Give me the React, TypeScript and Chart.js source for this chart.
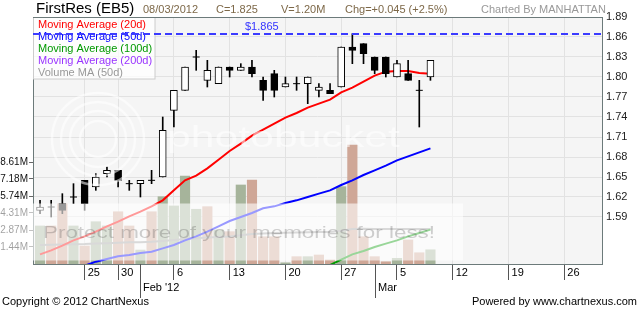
import React, { useEffect, useRef } from 'react';
import { Chart, registerables } from 'chart.js';

Chart.register(...registerables);

const FONT = '"Liberation Sans", Arial, sans-serif';

const stockName = 'FirstRes (EB5)';
const chartedBy = 'Charted By MANHATTAN';

const tradeDates = [
  '19/01/2012', '20/01/2012', '23/01/2012', '24/01/2012', '25/01/2012', '26/01/2012', '27/01/2012',
  '30/01/2012', '31/01/2012', '01/02/2012', '02/02/2012', '03/02/2012',
  '06/02/2012', '07/02/2012', '08/02/2012', '09/02/2012', '10/02/2012',
  '13/02/2012', '14/02/2012', '15/02/2012', '16/02/2012', '17/02/2012',
  '20/02/2012', '21/02/2012', '22/02/2012', '23/02/2012', '24/02/2012',
  '27/02/2012', '28/02/2012', '29/02/2012', '01/03/2012', '02/03/2012',
  '05/03/2012', '06/03/2012', '07/03/2012', '08/03/2012',
];

const opens = [1.600, 1.605, 1.610, 1.620, 1.645, 1.635, 1.655, 1.660, 1.640, 1.640, 1.645, 1.650,
  1.750, 1.780, 1.830, 1.795, 1.790, 1.815, 1.810, 1.815, 1.795, 1.805, 1.785, 1.790, 1.790, 1.780,
  1.780, 1.785, 1.845, 1.850, 1.830, 1.830, 1.800, 1.805, 1.780, 1.800];
const highs = [1.615, 1.615, 1.625, 1.640, 1.645, 1.655, 1.665, 1.660, 1.645, 1.645, 1.660, 1.740,
  1.780, 1.815, 1.840, 1.825, 1.815, 1.815, 1.820, 1.825, 1.800, 1.810, 1.800, 1.800, 1.800, 1.790,
  1.790, 1.845, 1.865, 1.850, 1.830, 1.830, 1.825, 1.825, 1.795, 1.825];
const lows = [1.595, 1.590, 1.595, 1.610, 1.600, 1.630, 1.650, 1.635, 1.630, 1.620, 1.640, 1.650,
  1.725, 1.780, 1.810, 1.785, 1.790, 1.800, 1.810, 1.800, 1.765, 1.770, 1.785, 1.780, 1.760, 1.770,
  1.775, 1.785, 1.820, 1.820, 1.805, 1.800, 1.800, 1.795, 1.725, 1.795];
const closes = [1.605, 1.605, 1.600, 1.620, 1.610, 1.650, 1.660, 1.645, 1.640, 1.645, 1.645, 1.720,
  1.780, 1.815, 1.830, 1.810, 1.815, 1.810, 1.815, 1.805, 1.780, 1.780, 1.790, 1.790, 1.800, 1.785,
  1.775, 1.845, 1.840, 1.835, 1.810, 1.805, 1.820, 1.795, 1.780, 1.825];
// volume in millions of shares
const volumes = [3.21, 3.21, 5.06, 3.21, 1.52, 3.57, 3.21, 4.41, 3.21, 1.18, 4.41, 5.68,
  4.90, 7.43, 4.62, 4.84, 2.87, 2.73, 6.67, 7.09, 2.30, 2.30, 0.10, 0.62, 0.62, 0.76,
  0.34, 6.53, 10.04, 2.30, 0.62, 0.19, 0.48, 2.03, 0.95, 1.20];

const ma20 = [1.534, 1.540, 1.547, 1.555, 1.561, 1.568, 1.576, 1.583, 1.591, 1.598, 1.606, 1.615,
  1.630, 1.645, 1.652, 1.663, 1.676, 1.689, 1.700, 1.712, 1.721, 1.730, 1.739, 1.746, 1.754, 1.760,
  1.766, 1.777, 1.784, 1.793, 1.802, 1.808, 1.809, 1.809, 1.806, 1.805];
const ma50 = [1.505, 1.508, 1.511, 1.514, 1.517, 1.523, 1.527, 1.531, 1.533, 1.536, 1.538, 1.543,
  1.548, 1.555, 1.561, 1.568, 1.576, 1.584, 1.590, 1.596, 1.603, 1.606, 1.611, 1.615, 1.620, 1.625,
  1.630, 1.638, 1.645, 1.653, 1.660, 1.667, 1.675, 1.681, 1.687, 1.693];
const ma100 = [null, null, null, null, null, null, null, null, null, null, null, null,
  null, null, null, null, null, null, null, null, null, null, null, null, null, 1.512,
  1.518, 1.526, 1.534, 1.539, 1.545, 1.550, 1.555, 1.561, 1.566, 1.571];
const volMa50 = [1.60, 1.62, 1.65, 1.67, 1.68, 1.72, 1.75, 1.80, 1.83, 1.84, 1.88, 1.95,
  2.02, 2.12, 2.18, 2.24, 2.28, 2.32, 2.42, 2.53, 2.58, 2.62, 2.64, 2.66, 2.68, 2.70,
  2.70, 2.80, 2.95, 2.97, 2.96, 2.95, 2.95, 2.96, 2.95, 2.95];

const priceTicks = [1.59, 1.62, 1.65, 1.68, 1.71, 1.74, 1.77, 1.80, 1.83, 1.86, 1.89];
const volumeTicks = [1.44, 2.87, 4.31, 5.74, 7.18, 8.61];
const dayTickIndex = [4, 7, 12, 17, 22, 27, 32, 37, 42, 47];
const dayTickLabels = ['25', '30', '6', '13', '20', '27', '5', '12', '19', '26'];
const monthTickIndex = [9, 30];
const monthTickLabels = ["Feb '12", 'Mar'];

const legendItems = [
  { label: 'Moving Average (20d)', color: '#ff0000' },
  { label: 'Moving Average (50d)', color: '#0000ff' },
  { label: 'Moving Average (100d)', color: '#009900' },
  { label: 'Moving Average (200d)', color: '#9933ff' },
  { label: 'Volume MA (50d)', color: '#999999' },
];

const decorPlugin = {
  id: 'decor',
  beforeDraw(chart: any) {
    const { ctx, chartArea: a } = chart;
    ctx.save();
    ctx.fillStyle = '#ffffff';
    ctx.fillRect(0, 0, chart.width, chart.height);
    ctx.fillStyle = '#f5f5f5';
    ctx.fillRect(a.left, a.top, a.right - a.left, a.bottom - a.top);
    ctx.restore();
  },
  afterDatasetsDraw(chart: any) {
    const { ctx, chartArea: a, scales } = chart;
    ctx.save();
    // legend box
    ctx.fillStyle = 'rgba(255,255,255,0.75)';
    ctx.fillRect(a.left, a.top, 122, 62);
    ctx.strokeStyle = '#cccccc';
    ctx.lineWidth = 1;
    ctx.strokeRect(a.left + 0.5, a.top + 0.5, 121.5, 61.5);
    ctx.font = `11px ${FONT}`;
    ctx.textBaseline = 'middle';
    ctx.textAlign = 'left';
    legendItems.forEach((it, k) => {
      ctx.fillStyle = it.color;
      ctx.fillText(it.label, a.left + 5, a.top + 8 + k * 12);
    });
    // highest high dashed line
    const hi = Math.max(...highs);
    const yHi = Math.round(scales.y.getPixelForValue(hi));
    ctx.strokeStyle = '#3b3bff';
    ctx.lineWidth = 2;
    ctx.setLineDash([7, 4]);
    ctx.beginPath();
    ctx.moveTo(a.left, yHi);
    ctx.lineTo(a.right, yHi);
    ctx.stroke();
    ctx.setLineDash([]);
    ctx.fillStyle = '#3333ff';
    ctx.fillText('$' + hi.toFixed(3), 245, yHi - 7);
    ctx.restore();
  },
  afterDraw(chart: any) {
    const { ctx, chartArea: a, scales } = chart;
    ctx.save();
    // photobucket watermark
    ctx.strokeStyle = 'rgba(255,255,255,0.55)';
    ctx.lineWidth = 2.5;
    [18, 28, 37, 46].forEach((r) => {
      ctx.beginPath();
      ctx.arc(98, 139, r, 0, Math.PI * 2);
      ctx.stroke();
    });
    ctx.fillStyle = 'rgba(255,255,255,0.55)';
    ctx.font = `30px ${FONT}`;
    ctx.textBaseline = 'alphabetic';
    ctx.textAlign = 'left';
    const pw = ctx.measureText('photobucket').width;
    ctx.save();
    ctx.translate(167, 147);
    ctx.scale(233 / pw, 1);
    ctx.fillText('photobucket', 0, 0);
    ctx.restore();
    // translucent band
    ctx.fillStyle = 'rgba(255,255,255,0.6)';
    ctx.fillRect(0, 203.5, 463, 57);
    ctx.fillStyle = 'rgba(40,40,40,0.22)';
    ctx.font = `16px ${FONT}`;
    const msg = 'Protect more of your memories for less!';
    const mw = ctx.measureText(msg).width;
    ctx.save();
    ctx.translate(43, 237.5);
    ctx.scale(392 / mw, 1);
    ctx.fillText(msg, 0, 0);
    ctx.restore();

    // top frame line
    ctx.strokeStyle = '#6c7a7a';
    ctx.lineWidth = 1;
    ctx.beginPath();
    ctx.moveTo(a.left, a.top + 0.5);
    ctx.lineTo(a.right + 1, a.top + 0.5);
    ctx.stroke();

    // month ticks
    ctx.strokeStyle = '#555555';
    ctx.fillStyle = '#000000';
    ctx.font = `11px ${FONT}`;
    ctx.textBaseline = 'middle';
    monthTickIndex.forEach((v, k) => {
      const px = Math.round(scales.x.getPixelForValue(v)) + 0.5;
      ctx.beginPath();
      ctx.moveTo(px, a.bottom);
      ctx.lineTo(px, a.bottom + 34);
      ctx.stroke();
      ctx.fillText(monthTickLabels[k], px + 2.5, a.bottom + 24);
    });

    // header
    const last = closes.length - 1;
    const chg = closes[last] - closes[last - 1];
    const pct = (chg / closes[last - 1]) * 100;
    ctx.fillStyle = '#000000';
    ctx.font = `15px ${FONT}`;
    ctx.fillText(stockName, 36, 9);
    ctx.font = `11px ${FONT}`;
    ctx.fillStyle = '#7d6848';
    ctx.fillText(tradeDates[last], 143, 10);
    ctx.fillText('C=' + closes[last].toFixed(3), 216, 10);
    ctx.fillText('V=' + volumes[last].toFixed(2) + 'M', 281, 10);
    ctx.fillText('Chg=' + (chg >= 0 ? '+' : '') + chg.toFixed(3) + ' (' + (pct >= 0 ? '+' : '') + pct.toFixed(1) + '%)', 345, 10);
    ctx.fillStyle = '#999999';
    ctx.fillText(chartedBy, 481, 10);

    // footer
    ctx.fillStyle = '#000000';
    ctx.fillText('Copyright \u00a9 2012 ChartNexus', 2, 302);
    ctx.textAlign = 'right';
    ctx.fillText('Powered by www.chartnexus.com', 637, 302);
    ctx.restore();
  },
};

export default function App() {
  const ref = useRef<HTMLCanvasElement>(null);
  useEffect(() => {
    document.body.style.margin = '0';
    const canvas = ref.current as HTMLCanvasElement;
    const idx = closes.map((_, i) => i);
    const upDay = closes.map((c, i) => (i === 0 ? c >= opens[i] : c > closes[i - 1]));
    const font = { family: FONT, size: 11 };
    const chart = new Chart(canvas, {
      type: 'bar',
      data: {
        datasets: [
          {
            type: 'line',
            label: 'Doji',
            data: idx.map((i) => ({ x: i, y: opens[i] === closes[i] ? closes[i] : null })),
            showLine: false,
            pointStyle: 'line',
            pointRadius: 3.5,
            pointBorderWidth: 1,
            pointBorderColor: '#000000',
            pointBackgroundColor: '#000000',
            yAxisID: 'y',
            order: 0,
          },
          {
            type: 'bar',
            label: 'Body',
            data: idx.map((i) => ({
              x: i,
              y: opens[i] === closes[i] ? null : [Math.min(opens[i], closes[i]), Math.max(opens[i], closes[i])],
            })),
            backgroundColor: (c: any) => (closes[c.dataIndex] > opens[c.dataIndex] ? '#ffffff' : '#000000'),
            borderColor: '#000000',
            borderWidth: 1,
            borderSkipped: false,
            barThickness: 7,
            grouped: false,
            yAxisID: 'y',
            order: 1,
          },
          {
            type: 'bar',
            label: 'Wick',
            data: idx.map((i) => ({ x: i, y: [lows[i], highs[i]] })),
            backgroundColor: '#000000',
            barThickness: 1,
            grouped: false,
            yAxisID: 'y',
            order: 2,
          },
          {
            type: 'line',
            label: 'Moving Average (20d)',
            data: idx.map((i) => ({ x: i, y: ma20[i] })),
            borderColor: '#ff0000',
            borderWidth: 2,
            pointRadius: 0,
            yAxisID: 'y',
            order: 3,
          },
          {
            type: 'line',
            label: 'Moving Average (50d)',
            data: idx.map((i) => ({ x: i, y: ma50[i] })),
            borderColor: '#0000ff',
            borderWidth: 2,
            pointRadius: 0,
            yAxisID: 'y',
            order: 4,
          },
          {
            type: 'line',
            label: 'Moving Average (100d)',
            data: idx.map((i) => ({ x: i, y: ma100[i] })),
            borderColor: '#009900',
            borderWidth: 2,
            pointRadius: 0,
            yAxisID: 'y',
            order: 5,
          },
          {
            type: 'line',
            label: 'Volume MA (50d)',
            data: idx.map((i) => ({ x: i, y: volMa50[i] })),
            borderColor: '#a0a0a0',
            borderWidth: 2,
            pointRadius: 0,
            yAxisID: 'v',
            order: 6,
          },
          {
            type: 'bar',
            label: 'Volume',
            data: idx.map((i) => ({ x: i, y: volumes[i] })),
            backgroundColor: idx.map((i) => (upDay[i] ? '#a6b49b' : '#cfa797')),
            barThickness: 9.5,
            grouped: false,
            yAxisID: 'v',
            order: 7,
          },
        ],
      } as any,
      options: {
        animation: false,
        responsive: false,
        events: [],
        layout: { padding: { top: 17, left: 0, right: 0, bottom: 0 } },
        plugins: { legend: { display: false }, tooltip: { enabled: false } },
        scales: {
          x: {
            type: 'linear',
            min: -0.63,
            max: 50.38,
            offset: false,
            afterBuildTicks: (s: any) => {
              s.ticks = dayTickIndex.map((v) => ({ value: v }));
            },
            afterFit: (s: any) => {
              s.height = 45;
            },
            ticks: {
              autoSkip: false,
              maxRotation: 0,
              align: 'start',
              labelOffset: 3,
              padding: -14,
              color: '#000000',
              font,
              callback: (v: any) => {
                const k = dayTickIndex.indexOf(Number(v));
                return k >= 0 ? dayTickLabels[k] : '';
              },
            },
            grid: { color: '#e2e2e2', tickColor: '#555555', tickLength: 16, offset: false },
            border: { color: '#6c7a7a' },
          },
          y: {
            type: 'linear',
            position: 'right',
            min: 1.5195,
            max: 1.89,
            afterBuildTicks: (s: any) => {
              s.ticks = priceTicks.map((v) => ({ value: v }));
            },
            afterFit: (s: any) => {
              s.width = 38;
            },
            ticks: { padding: 4, color: '#222222', font, callback: (v: any) => Number(v).toFixed(2) },
            grid: { color: '#e2e2e2', drawTicks: false },
            border: { color: '#6c7a7a' },
          },
          v: {
            type: 'linear',
            position: 'left',
            min: 0,
            max: 20.85,
            afterBuildTicks: (s: any) => {
              s.ticks = volumeTicks.map((v) => ({ value: v }));
            },
            afterFit: (s: any) => {
              s.width = 33;
            },
            ticks: { padding: 1, color: '#111111', font: { family: FONT, size: 10 }, callback: (v: any) => Number(v).toFixed(2) + 'M' },
            grid: { drawOnChartArea: false, tickLength: 4, tickColor: '#666666' },
            border: { color: '#6c7a7a' },
          },
        },
      } as any,
      plugins: [decorPlugin],
    });
    return () => chart.destroy();
  }, []);
  return (
    <div style={{ position: 'absolute', left: 0, top: 0, width: 640, height: 309 }}>
      <canvas ref={ref} width={640} height={309} style={{ display: 'block', width: 640, height: 309 }} />
    </div>
  );
}
